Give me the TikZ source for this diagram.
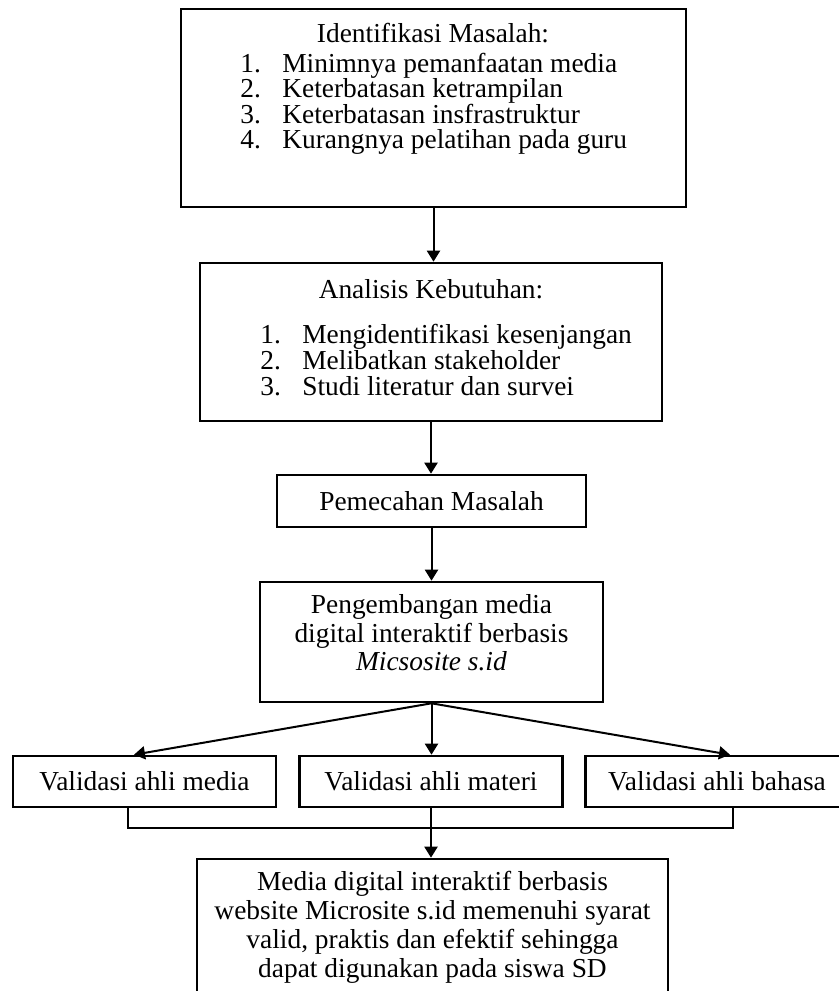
\documentclass[tikz,border=0pt]{standalone}
\usepackage{fontspec}
\setmainfont{Liberation Serif}
\usetikzlibrary{arrows.meta}
\tikzstyle{kotak}=[draw=black, line width=1.3pt, inner sep=0pt]
\tikzstyle{teks}=[inner sep=0pt, font=\fontsize{13.7}{12.7}\selectfont]
\tikzstyle{panah}=[line width=1pt, -{Triangle[length=5.5pt,width=6.5pt]}]
\newcommand{\nomor}[1]{\makebox[21pt][l]{#1}}

\begin{document}
\begin{tikzpicture}[x=0.5pt, y=-0.5pt]
        \clip (0,0) rectangle (839,991);

        % kotak utama
        \node[kotak, minimum width=252.5pt, minimum height=99pt] (idm) at (433.5,108) {};
        \node[kotak, minimum width=231pt, minimum height=79pt] (akb) at (431,342) {};
        \node[kotak, minimum width=154.5pt, minimum height=26pt, teks] (pm) at (431.5,501) {Pemecahan Masalah};
        \node[kotak, minimum width=171.5pt, minimum height=60pt] (pmd) at (431.5,642) {};
        \node[kotak, minimum width=235.5pt, minimum height=73pt] (hasil) at (432.5,932) {};

        % teks di dalam kotak
        \node[teks] (idmjudul) at (433,33) {Identifikasi Masalah:};
        \node[teks, anchor=west, align=left] (idmisi) at (240,104) {\nomor{1.}Minimnya pemanfaatan media\\
          \nomor{2.}Keterbatasan ketrampilan\\
          \nomor{3.}Keterbatasan insfrastruktur\\
          \nomor{4.}Kurangnya pelatihan pada guru};
        \node[teks] (akbjudul) at (431,289) {Analisis Kebutuhan:};
        \node[teks, anchor=west, align=left, font=\fontsize{13.7}{13}\selectfont] (akbisi) at (260,360)
          {\nomor{1.}Mengidentifikasi kesenjangan\\
          \nomor{2.}Melibatkan stakeholder\\
          \nomor{3.}Studi literatur dan survei};
        \node[teks, align=center, font=\fontsize{13.7}{14.25}\selectfont] (pmdisi) at (431.5,633)
          {Pengembangan media\\ digital interaktif berbasis\\ \textit{Micsosite s.id}};
        \node[teks, align=center, font=\fontsize{13.7}{14.5}\selectfont] (hasilisi) at (432.5,927)
          {Media digital interaktif berbasis\\ website Microsite s.id memenuhi syarat\\
           valid, praktis dan efektif sehingga\\ dapat digunakan pada siswa SD};

        % validasi
        \foreach \nama/\x/\isi in {vmed/144.5/media,vmat/431/materi,vbhs/717/bahasa}{
          \node[kotak, minimum width=131.5pt, minimum height=25.5pt, teks] (\nama) at (\x,781.5) {Validasi ahli \isi};
        }

        \draw[panah] (idm.south) -- (idm.south |- akb.north);
        \draw[panah] (akb.south) -- (akb.south |- pm.north);
        \draw[panah] (pm.south) -- (pm.south |- pmd.north);
        \draw[panah] (pmd.south) -- ([xshift=-5.25pt]vmed.north);
        \draw[panah] (pmd.south) -- (pmd.south |- vmat.north);
        \draw[panah] (pmd.south) -- ([xshift=6.5pt]vbhs.north);

        \draw[line width=1pt] ([xshift=-8.25pt]vmed.south) -- ++(0,20) -| ([xshift=8pt]vbhs.south);
        \draw[panah] (vmat.south) -- (vmat.south |- hasil.north);
      \end{tikzpicture}
\end{document}
